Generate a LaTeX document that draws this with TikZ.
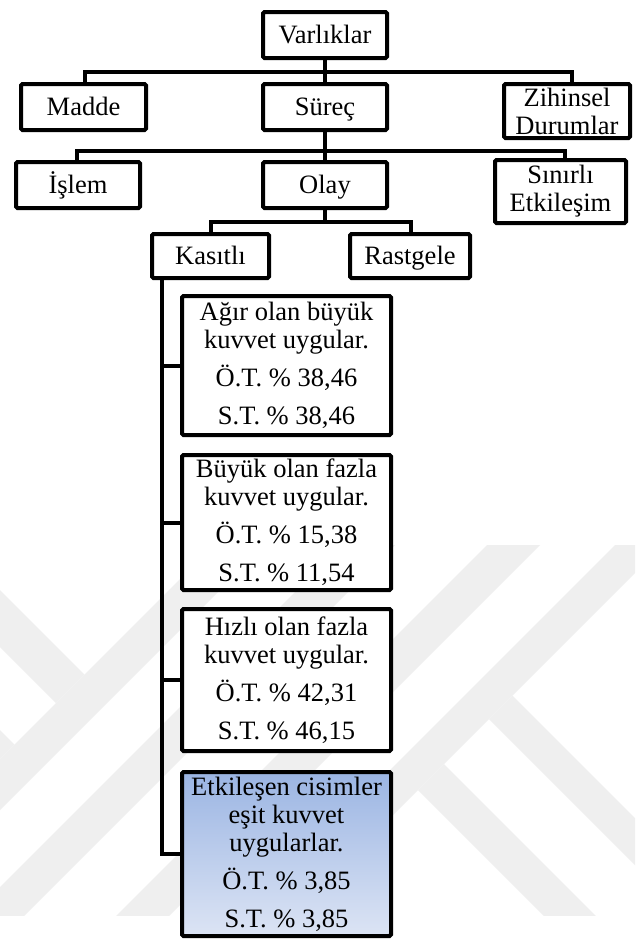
\documentclass[tikz,border=0pt]{standalone}
\usepackage{fontspec}
\setmainfont{Liberation Serif}
\definecolor{wm}{RGB}{239,239,239}
\definecolor{bluetop}{RGB}{155,181,227}
\definecolor{bluebot}{RGB}{220,228,244}
\begin{document}
\begin{tikzpicture}[x=1pt,y=-1pt,
  box/.style={draw=black, line width=4pt, fill=white, rounded corners=1.5pt,
    inner sep=0pt, align=center, text=black,
    font=\fontsize{26.5}{28}\selectfont},
  oneline/.style={box, text height=19pt, text depth=2pt},
  link/.style={draw=black, line width=4pt}
]
\fill[white] (0,0) rectangle (635,940);
\useasboundingbox (0,0) rectangle (635,940);

% faint chevron pattern in the background
\begin{scope}
  \clip (0,545) rectangle (635,915);
  \fill[wm] (259,500) -- (310,500) -- (-190,1000) -- (-241,1000) -- cycle;
  \fill[wm] (387,500) -- (440,500) -- (-60,1000) -- (-113,1000) -- cycle;
  \fill[wm] (532,500) -- (585,500) -- (85,1000) -- (32,1000) -- cycle;
  \fill[wm] (660,500) -- (708,500) -- (208,1000) -- (160,1000) -- cycle;
  \fill[wm] (512.5,695.5) -- (700,883) -- (700,930) -- (489,719) -- cycle;
  \fill[wm] (444,764) -- (680,1000) -- (628,1000) -- (418,790) -- cycle;
  \fill[wm] (84.5,674.5) -- (56,703) -- (-100,547) -- (-100,490) -- cycle;
  \fill[wm] (14.5,744.5) -- (-15.5,774.5) -- (-100,690) -- (-100,630) -- cycle;
\end{scope}

% hierarchy
\node[oneline, minimum width=124pt, minimum height=46pt] (var) at (325,35) {Varlıklar};

\node[oneline, minimum width=125pt, minimum height=46pt] (madde) at (83.5,107) {Madde};
\node[oneline, minimum width=124pt, minimum height=46pt] (sur) at (325,107) {Süreç};
\node[box, minimum width=126pt, minimum height=54pt] (zih) at (567,111) {Zihinsel\\Durumlar};

\node[oneline, minimum width=124pt, minimum height=46pt] (islem) at (78,185) {İşlem};
\node[oneline, minimum width=124pt, minimum height=46pt] (olay) at (325,185) {Olay};
\node[box, minimum width=131pt, minimum height=63pt] (sin) at (560.5,191.5) {Sınırlı\\Etkileşim};

\node[oneline, minimum width=117pt, minimum height=44pt] (kas) at (210.5,256) {Kasıtlı};
\node[oneline, minimum width=120pt, minimum height=44pt] (ras) at (410,256) {Rastgele};

\node[box, minimum width=209pt, minimum height=139pt] (b1) at (286.5,365.5)
  {Ağır olan büyük\\kuvvet uygular.\\[10pt]Ö.T. \% 38,46\\[10pt]S.T. \% 38,46};
\node[box, minimum width=209pt, minimum height=135pt] (b2) at (286.5,522.5)
  {Büyük olan fazla\\kuvvet uygular.\\[10pt]Ö.T. \% 15,38\\[10pt]S.T. \% 11,54};
\node[box, minimum width=209pt, minimum height=142pt] (b3) at (286.5,680)
  {Hızlı olan fazla\\kuvvet uygular.\\[10pt]Ö.T. \% 42,31\\[10pt]S.T. \% 46,15};
\node[box, top color=bluetop, bottom color=bluebot, minimum width=209pt, minimum height=164pt] (b4) at (286.5,854)
  {Etkileşen cisimler\\eşit kuvvet\\uygularlar.\\[10pt]Ö.T. \% 3,85\\[10pt]S.T. \% 3,85};

% connectors
\coordinate (j1) at (0,72);
\coordinate (j2) at (0,151);
\coordinate (j3) at (0,222);

\draw[link] (var.south) -- (sur.north);
\draw[link] ([xshift=1.5pt]madde.north) |- ([xshift=5pt]zih.north |- j1) -- ([xshift=5pt]zih.north);

\draw[link] (sur.south) -- (olay.north);
\draw[link] ([xshift=-1pt]islem.north) |- ([xshift=4.5pt]sin.north |- j2) -- ([xshift=4.5pt]sin.north);

\draw[link] (olay.south) -- (olay.south |- j3);
\draw[link] (kas.north) |- ([xshift=1pt]ras.north |- j3) -- ([xshift=1pt]ras.north);

\coordinate (trunk) at ([xshift=-48.5pt]kas.south);
\draw[link] (trunk) |- (b4.west);
\draw[link] (trunk |- b1.west) -- (b1.west);
\draw[link] (trunk |- b2.west) -- (b2.west);
\draw[link] (trunk |- b3.west) -- (b3.west);
\end{tikzpicture}
\end{document}
